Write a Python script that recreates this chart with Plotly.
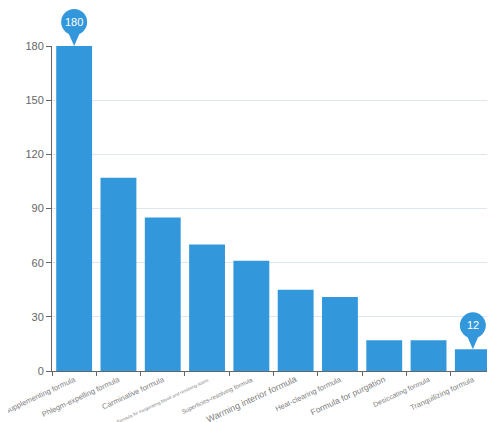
import plotly.graph_objects as go

categories = ["Supplementing formula", "Phlegm-expelling formula", "Carminative formula",
              "Formula for invigorating blood and resolving stasis", "Superficies-resolving formula",
              "Warming interior formula", "Heat-clearing formula", "Formula for purgation",
              "Desiccating formula", "Tranquilizing formula"]
values = [180, 107, 85, 70, 61, 45, 41, 17, 17, 12]
y_ticks = [0, 30, 60, 90, 120, 150, 180]
Y_MAX = 180

# per-label font sizes (style only)
label_sizes = [7.5, 7.5, 7.5, 4.5, 6, 9, 7.5, 8.5, 7, 7.5]

BLUE = "#3398DB"
tick_text = ['<span style="font-size:%spx">%s</span>' % (s, c) for c, s in zip(categories, label_sizes)]

fig = go.Figure(go.Bar(x=categories, y=values, marker_color=BLUE, marker_line_width=0))

# pins on max and min
imax = values.index(max(values))
imin = values.index(min(values))
shapes = []
annotations = []
for i in (imax, imin):
    ya = values[i] / Y_MAX
    shapes.append(dict(type="circle", xref="x", yref="paper", xsizemode="pixel", ysizemode="pixel",
                       xanchor=categories[i], yanchor=ya, x0=-13, x1=13, y0=11, y1=37,
                       fillcolor=BLUE, line_width=0, layer="above"))
    shapes.append(dict(type="path", xref="x", yref="paper", xsizemode="pixel", ysizemode="pixel",
                       xanchor=categories[i], yanchor=ya,
                       path="M-7,16 L7,16 L0,0 Z", fillcolor=BLUE, line_width=0, layer="above"))
    annotations.append(dict(x=categories[i], y=values[i], xref="x", yref="y", text=str(values[i]),
                            showarrow=False, yshift=24, font=dict(color="white", size=11)))

fig.update_layout(
    width=487, height=414,
    margin=dict(l=44, r=0, t=38, b=51),
    paper_bgcolor="white", plot_bgcolor="white",
    bargap=0.19, showlegend=False,
    font=dict(family="Liberation Sans, Arial, sans-serif", color="#666666", size=10),
    shapes=shapes, annotations=annotations,
    xaxis=dict(tickmode="array", tickvals=categories, ticktext=tick_text, tickangle=-25,
               tickson="boundaries", ticks="outside", ticklen=4, tickcolor="#666666",
               showline=True, linecolor="#666666", linewidth=1, showgrid=False,
               automargin=False, tickfont=dict(size=8, color="#808080")),
    yaxis=dict(range=[0, Y_MAX], tickvals=y_ticks, ticks="outside", ticklen=5, tickcolor="#666666",
               showline=True, linecolor="#666666", linewidth=1, gridcolor="#E0E6F1",
               zeroline=False, automargin=False, tickfont=dict(size=11, color="#666666")),
)
fig.write_html("out.html")
